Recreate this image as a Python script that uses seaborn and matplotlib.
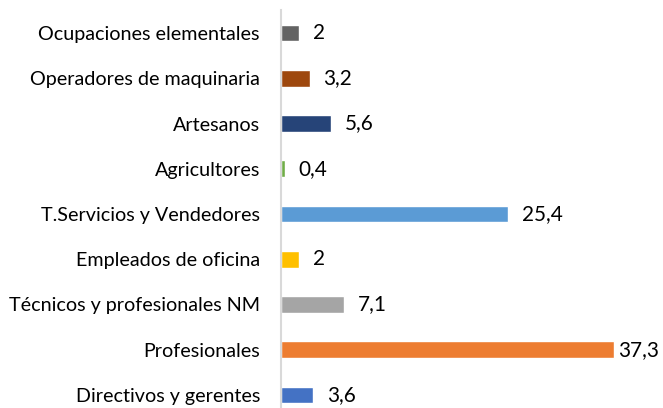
import matplotlib
matplotlib.use("Agg")
import matplotlib.pyplot as plt
import seaborn as sns
import pandas as pd

categories = ["Ocupaciones elementales", "Operadores de maquinaria", "Artesanos",
              "Agricultores", "T.Servicios y Vendedores", "Empleados de oficina",
              "Técnicos y profesionales NM", "Profesionales", "Directivos y gerentes"]
values = [2, 3.2, 5.6, 0.4, 25.4, 2, 7.1, 37.3, 3.6]
value_labels = ["2", "3,2", "5,6", "0,4", "25,4", "2", "7,1", "37,3", "3,6"]
colors = ["#636363", "#9E480E", "#264478", "#70AD47", "#5B9BD5",
          "#FFC000", "#A5A5A5", "#ED7D31", "#4472C4"]

sns.set_theme(style="white")
plt.rcParams['font.family'] = ['Lato', 'DejaVu Sans']

W, H, DPI = 663, 408, 100
fig = plt.figure(figsize=(W / DPI, H / DPI), dpi=DPI)
ax = fig.add_axes([281 / W, 1 - 417.6 / H, 357 / W, 407.2 / H])

df = pd.DataFrame({"cat": categories, "val": values})
sns.barplot(data=df, y="cat", x="val", hue="cat", palette=colors, order=categories,
            hue_order=categories, legend=False, width=0.37, saturation=1, ax=ax)

ax.set_xlim(0, 40)
ax.set_ylim(len(categories) - 0.5, -0.5)
ax.set_xlabel("")
ax.set_ylabel("")
ax.set_xticks([])
for s in ["top", "right", "bottom"]:
    ax.spines[s].set_visible(False)
ax.spines["left"].set_color("#D9D9D9")
ax.spines["left"].set_linewidth(1.5)

# size category labels so the longest matches reference width (~222 px)
fig.canvas.draw()
renderer = fig.canvas.get_renderer()
t = fig.text(0, 0, "Ocupaciones elementales", fontsize=14)
w = t.get_window_extent(renderer).width
t.remove()
cat_fs = 14 * 222 / w
t = fig.text(0, 0, "37,3", fontsize=16)
w2 = t.get_window_extent(renderer).width
t.remove()
val_fs = 16 * 41 / w2

ax.tick_params(axis="y", length=0, pad=21 * 72 / DPI, labelsize=cat_fs, labelcolor="#000000")

texts = []
for i, (v, lab) in enumerate(zip(values, value_labels)):
    tx = ax.annotate(lab, xy=(v, i), xytext=(14 * 72 / DPI, 0), textcoords="offset points",
                     ha="left", va="center", fontsize=val_fs, color="#000000",
                     annotation_clip=False)
    texts.append(tx)

fig.canvas.draw()
for tx in texts:
    bb = tx.get_window_extent(renderer)
    if bb.x1 > W - 4:
        shift = (bb.x1 - (W - 4)) * 72 / DPI
        ox, oy = tx.xyann
        tx.xyann = (ox - shift, oy)

fig.savefig("out.png", dpi=DPI, facecolor="white")
